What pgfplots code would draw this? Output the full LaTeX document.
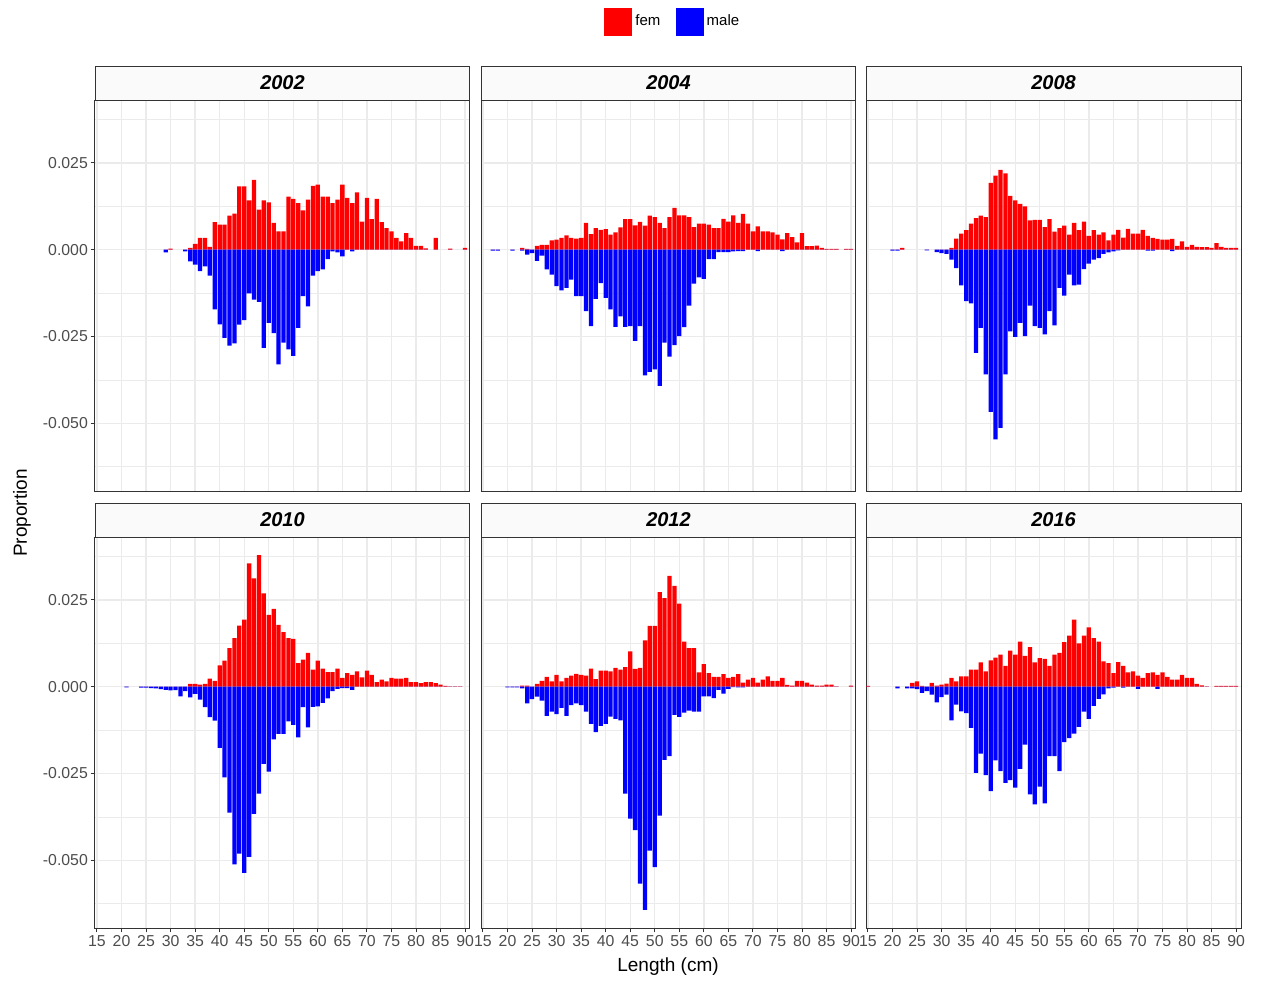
\documentclass[border=0pt]{standalone}
\usepackage{fontspec}
\setmainfont{Liberation Sans}
\usepackage{pgfplots}
\usepackage{pgfplotstable}
\pgfplotsset{compat=1.18}

\definecolor{fem}{RGB}{255,0,0}
\definecolor{male}{RGB}{0,0,255}
\definecolor{gridc}{RGB}{235,235,235}
\definecolor{frame}{RGB}{51,51,51}
\definecolor{ticktext}{RGB}{77,77,77}
\definecolor{stripfill}{RGB}{250,250,250}

% length-frequency proportions: females positive, males negative
\pgfplotstableread{
len fem male
29 0 -0.0008
30 0.0003 0
33 0 -0.0005
34 0.0005 -0.0034
35 0.0017 -0.0043
36 0.0034 -0.0062
37 0.0034 -0.0048
38 0.0008 -0.0075
39 0.0079 -0.0172
40 0.0072 -0.0215
41 0.0072 -0.0254
42 0.0098 -0.0276
43 0.0104 -0.0270
44 0.0182 -0.0216
45 0.0182 -0.0203
46 0.0142 -0.0126
47 0.0201 -0.0144
48 0.0115 -0.0150
49 0.0142 -0.0283
50 0.0136 -0.0211
51 0.0077 -0.0240
52 0.0053 -0.0330
53 0.0053 -0.0268
54 0.0153 -0.0287
55 0.0146 -0.0306
56 0.0134 -0.0225
57 0.0113 -0.0134
58 0.0144 -0.0163
59 0.0184 -0.0075
60 0.0187 -0.0062
61 0.0153 -0.0057
62 0.0153 -0.0027
63 0.0134 -0.0005
64 0.0144 -0.0008
65 0.0187 -0.0019
66 0.0149 0
67 0.0134 -0.0005
68 0.0165 0
69 0.0081 0
70 0.0149 0
71 0.0088 0
72 0.0146 0
73 0.0079 0
74 0.0062 0
75 0.0053 0
76 0.0034 0
77 0.0024 0
78 0.0048 0
79 0.0034 0
80 0.0011 0
81 0.0011 0
82 0.0004 0
84 0.0034 0
87 0.0003 0
90 0.0005 0
}\tA

\pgfplotstableread{
len fem male
17 0 -0.0003
18 0 -0.0003
21 0 -0.0003
23 0.0005 -0.0003
24 0.0002 -0.0014
25 0 -0.0010
26 0.0011 -0.0032
27 0.0014 -0.0017
28 0.0014 -0.0057
29 0.0027 -0.0072
30 0.0029 -0.0105
31 0.0034 -0.0117
32 0.0041 -0.0110
33 0.0034 -0.0086
34 0.0032 -0.0134
35 0.0034 -0.0134
36 0.0077 -0.0177
37 0.0045 -0.0220
38 0.0062 -0.0142
39 0.0057 -0.0096
40 0.0059 -0.0139
41 0.0043 -0.0172
42 0.0050 -0.0222
43 0.0064 -0.0192
44 0.0088 -0.0222
45 0.0088 -0.0220
46 0.0070 -0.0263
47 0.0080 -0.0220
48 0.0069 -0.0362
49 0.0098 -0.0352
50 0.0094 -0.0345
51 0.0077 -0.0392
52 0.0062 -0.0268
53 0.0094 -0.0308
54 0.0120 -0.0275
55 0.0099 -0.0249
56 0.0099 -0.0223
57 0.0094 -0.0161
58 0.0065 -0.0098
59 0.0075 -0.0080
60 0.0075 -0.0084
61 0.0072 -0.0027
62 0.0062 -0.0027
63 0.0062 -0.0007
64 0.0089 -0.0007
65 0.0081 -0.0007
66 0.0099 -0.0005
67 0.0077 -0.0004
68 0.0103 -0.0004
69 0.0075 0
70 0.0053 0
71 0.0067 -0.0004
72 0.0053 0
73 0.0053 0
74 0.0050 0
75 0.0043 0
76 0.0030 -0.0004
77 0.0048 0
78 0.0036 0
79 0.0021 0
80 0.0048 0
81 0.0010 0
82 0.0010 0
83 0.0012 0
84 0.0005 0
85 0.0002 0
86 0.0002 0
87 0.0002 0
89 0.0002 0
90 0.0002 0
}\tB

\pgfplotstableread{
len fem male
20 0 -0.0003
21 0 -0.0003
22 0.0005 0
27 0 -0.0002
29 0 -0.0007
30 0 -0.0010
31 0 -0.0012
32 0.0005 -0.0029
33 0.0032 -0.0053
34 0.0046 -0.0103
35 0.0056 -0.0148
36 0.0075 -0.0155
37 0.0091 -0.0297
38 0.0098 -0.0225
39 0.0094 -0.0359
40 0.0192 -0.0467
41 0.0213 -0.0546
42 0.0230 -0.0513
43 0.0220 -0.0359
44 0.0155 -0.0235
45 0.0142 -0.0251
46 0.0132 -0.0211
47 0.0125 -0.0249
48 0.0084 -0.0161
49 0.0086 -0.0220
50 0.0086 -0.0225
51 0.0065 -0.0244
52 0.0088 -0.0177
53 0.0052 -0.0218
54 0.0062 -0.0110
55 0.0069 -0.0132
56 0.0043 -0.0072
57 0.0077 -0.0103
58 0.0056 -0.0101
59 0.0081 -0.0056
60 0.0040 -0.0040
61 0.0056 -0.0029
62 0.0043 -0.0024
63 0.0050 -0.0012
64 0.0027 -0.0008
65 0.0043 -0.0005
66 0.0057 -0.0002
67 0.0035 0
68 0.0060 0
69 0.0046 0
70 0.0046 0
71 0.0057 0
72 0.0040 -0.0003
73 0.0034 -0.0003
74 0.0031 0
75 0.0029 0
76 0.0029 0
77 0.0031 -0.0004
78 0.0011 0
79 0.0024 0
80 0.0008 0
81 0.0014 0
82 0.0008 0
83 0.0007 0
84 0.0007 0
85 0.0005 0
86 0.0019 0
87 0.0008 0
88 0.0005 0
89 0.0005 0
90 0.0005 0
}\tC

\pgfplotstableread{
len fem male
21 0 -0.0002
24 0 -0.0003
25 0 -0.0003
26 0 -0.0004
27 0 -0.0005
28 0 -0.0007
29 0 -0.0009
30 0 -0.0011
31 0 -0.0010
32 0 -0.0028
33 0 -0.0013
34 0.0008 -0.0031
35 0.0008 -0.0021
36 0.0006 -0.0037
37 0.0008 -0.0059
38 0.0023 -0.0088
39 0.0017 -0.0098
40 0.0061 -0.0176
41 0.0075 -0.0261
42 0.0111 -0.0363
43 0.0140 -0.0512
44 0.0176 -0.0481
45 0.0193 -0.0536
46 0.0355 -0.0490
47 0.0312 -0.0366
48 0.0379 -0.0308
49 0.0269 -0.0222
50 0.0207 -0.0245
51 0.0224 -0.0152
52 0.0178 -0.0136
53 0.0157 -0.0136
54 0.0140 -0.0100
55 0.0138 -0.0110
56 0.0068 -0.0146
57 0.0078 -0.0059
58 0.0097 -0.0117
59 0.0049 -0.0058
60 0.0075 -0.0057
61 0.0052 -0.0047
62 0.0042 -0.0034
63 0.0042 -0.0013
64 0.0052 -0.0006
65 0.0025 -0.0004
66 0.0039 -0.0004
67 0.0034 -0.0009
68 0.0044 0
69 0.0027 0
70 0.0046 0
71 0.0034 0
72 0.0013 0
73 0.0020 0
74 0.0015 0
75 0.0025 0
76 0.0023 0
77 0.0023 0
78 0.0025 0
79 0.0013 0
80 0.0013 0
81 0.0010 0
82 0.0013 0
83 0.0013 0
84 0.0010 0
85 0.0006 0
86 0.0002 0
87 0.0001 0
88 0.0001 0
89 0.0001 0
}\tD

\pgfplotstableread{
len fem male
20 0 -0.0002
21 0 -0.0002
22 0 -0.0002
23 0.0003 -0.0005
24 0.0003 -0.0048
25 0 -0.0036
26 0.0008 -0.0029
27 0.0017 -0.0040
28 0.0028 -0.0084
29 0.0015 -0.0072
30 0.0034 -0.0079
31 0.0015 -0.0061
32 0.0025 -0.0084
33 0.0032 -0.0053
34 0.0037 -0.0048
35 0.0034 -0.0053
36 0.0032 -0.0072
37 0.0052 -0.0107
38 0.0022 -0.0131
39 0.0046 -0.0113
40 0.0046 -0.0107
41 0.0044 -0.0086
42 0.0054 -0.0093
43 0.0049 -0.0097
44 0.0056 -0.0308
45 0.0102 -0.0380
46 0.0051 -0.0413
47 0.0054 -0.0567
48 0.0133 -0.0643
49 0.0175 -0.0472
50 0.0175 -0.0520
51 0.0272 -0.0371
52 0.0255 -0.0211
53 0.0319 -0.0200
54 0.0290 -0.0081
55 0.0239 -0.0087
56 0.0130 -0.0075
57 0.0111 -0.0069
58 0.0111 -0.0072
59 0.0041 -0.0072
60 0.0065 -0.0028
61 0.0039 -0.0028
62 0.0028 -0.0033
63 0.0028 -0.0009
64 0.0036 -0.0020
65 0.0025 -0.0006
66 0.0028 -0.0001
67 0.0036 -0.0002
68 0.0012 -0.0002
69 0.0020 0
70 0.0025 0
71 0.0012 0
72 0.0020 0
73 0.0030 0
74 0.0017 0
75 0.0017 0
76 0.0025 0
77 0.0005 0
78 0.0003 0
79 0.0017 0
80 0.0017 0
81 0.0012 0
82 0.0006 0
83 0.0003 0
84 0.0003 0
85 0.0006 0
86 0.0006 0
87 0.0001 0
90 0.0003 0
}\tE

\pgfplotstableread{
len fem male
15 0.0002 0
21 0 -0.0005
23 0 -0.0005
24 0.0011 -0.0005
25 0.0015 -0.0007
26 0.0002 -0.0018
27 0 -0.0013
28 0.0011 -0.0023
29 0.0003 -0.0045
30 0.0006 -0.0030
31 0.0009 -0.0023
32 0.0025 -0.0097
33 0.0015 -0.0052
34 0.0030 -0.0071
35 0.0030 -0.0076
36 0.0049 -0.0119
37 0.0049 -0.0248
38 0.0070 -0.0193
39 0.0044 -0.0255
40 0.0076 -0.0301
41 0.0084 -0.0212
42 0.0092 -0.0243
43 0.0060 -0.0277
44 0.0104 -0.0269
45 0.0092 -0.0291
46 0.0130 -0.0237
47 0.0089 -0.0167
48 0.0114 -0.0310
49 0.0070 -0.0339
50 0.0082 -0.0288
51 0.0080 -0.0336
52 0.0060 -0.0200
53 0.0092 -0.0200
54 0.0097 -0.0243
55 0.0128 -0.0160
56 0.0147 -0.0148
57 0.0193 -0.0135
58 0.0125 -0.0116
59 0.0147 -0.0072
60 0.0171 -0.0093
61 0.0140 -0.0055
62 0.0130 -0.0035
63 0.0073 -0.0022
64 0.0068 -0.0005
65 0.0039 -0.0003
66 0.0071 0
67 0.0060 -0.0003
68 0.0041 0
69 0.0044 0
70 0.0032 -0.0006
71 0.0025 0
72 0.0039 0
73 0.0041 0
74 0.0034 -0.0006
75 0.0041 0
76 0.0028 0
77 0.0020 0
78 0.0020 0
79 0.0034 0
80 0.0025 0
81 0.0025 0
82 0.0008 0
83 0.0004 0
84 0.0001 0
86 0.0002 0
87 0.0002 0
88 0.0002 0
89 0.0002 0
90 0.0002 0
}\tF

\pgfplotsset{
  panel/.style={
    scale only axis, width=225pt, height=234.6pt, anchor=north west,
    xmin=14.6, xmax=91, ymin=-0.0695, ymax=0.0431,
    xtick={15,20,...,90},
    ytick={-0.05,-0.025,0,0.025},
    minor ytick={-0.0625,-0.0375,-0.0125,0.0125,0.0375},
    grid=both,
    major grid style={draw=gridc, line width=0.8pt},
    minor grid style={draw=gridc, line width=0.45pt},
    axis line style={draw=frame, line width=0.6pt},
    tick align=outside, tick pos=left,
    major tick length=2.6pt, minor tick length=0pt,
    xticklabels={}, yticklabels={},
    xtick style={draw=none}, ytick style={draw=none},
    ticklabel style={font=\fontsize{9.5}{11}\selectfont, text=ticktext},
    xticklabel style={inner sep=1.5pt},
    yticklabel style={inner sep=1.5pt},
  },
  bottomrow/.style={
    xticklabels={15,20,25,30,35,40,45,50,55,60,65,70,75,80,85,90},
    xtick style={draw=frame, line width=0.6pt},
  },
  leftcol/.style={
    yticklabels={-0.050,-0.025,0.000,0.025},
    ytick style={draw=frame, line width=0.6pt},
  },
  fbar/.style={ybar, bar width=0.87, bar shift=0pt, fill=fem, draw=none, forget plot},
  mbar/.style={ybar, bar width=0.87, bar shift=0pt, fill=male, draw=none, forget plot},
  sq/.style={legend image code/.code={\fill[#1] (0pt,-8.1pt) rectangle (16.2pt,8.1pt);}},
}

\begin{document}
\begin{tikzpicture}
\useasboundingbox (0pt,0pt) rectangle (757.8pt,-589.8pt);

\begin{axis}[panel, leftcol, name=p1, at={(57pt,-60pt)},
  legend columns=2,
  legend style={at={(1.5427,1.2008)}, anchor=center, draw=none, fill=none,
    font=\fontsize{9}{10}\selectfont,
    /tikz/every even column/.append style={column sep=7.2pt}}]
\addlegendimage{sq=fem}
\addlegendentry{fem}
\addlegendimage{sq=male}
\addlegendentry{male}
\addplot[fbar] table[x=len, y=fem] {\tA};
\addplot[mbar] table[x=len, y=male] {\tA};
\end{axis}

\begin{axis}[panel, name=p2, at={(288.6pt,-60pt)}]
\addplot[fbar] table[x=len, y=fem] {\tB};
\addplot[mbar] table[x=len, y=male] {\tB};
\end{axis}

\begin{axis}[panel, name=p3, at={(519.6pt,-60pt)}]
\addplot[fbar] table[x=len, y=fem] {\tC};
\addplot[mbar] table[x=len, y=male] {\tC};
\end{axis}

\begin{axis}[panel, leftcol, bottomrow, name=p4, at={(57pt,-322.2pt)}]
\addplot[fbar] table[x=len, y=fem] {\tD};
\addplot[mbar] table[x=len, y=male] {\tD};
\end{axis}

\begin{axis}[panel, bottomrow, name=p5, at={(288.6pt,-322.2pt)}]
\addplot[fbar] table[x=len, y=fem] {\tE};
\addplot[mbar] table[x=len, y=male] {\tE};
\end{axis}

\begin{axis}[panel, bottomrow, name=p6, at={(519.6pt,-322.2pt)}]
\addplot[fbar] table[x=len, y=fem] {\tF};
\addplot[mbar] table[x=len, y=male] {\tF};
\end{axis}

% facet strips
\foreach \p/\yr in {p1/2002, p2/2004, p3/2008, p4/2010, p5/2012, p6/2016} {
  \draw[draw=frame, fill=stripfill, line width=0.6pt]
    (\p.north west) rectangle ([yshift=20.4pt]\p.north east);
  \node[font=\bfseries\itshape\fontsize{12}{14}\selectfont]
    at ([yshift=10.2pt]\p.north) {\yr};
}

% axis titles
\node[rotate=90, font=\fontsize{11.4}{13}\selectfont] at (13.2pt,-307.8pt) {Proportion};
\node[font=\fontsize{11.4}{13}\selectfont] at (400.8pt,-580.2pt) {Length (cm)};
\end{tikzpicture}
\end{document}
